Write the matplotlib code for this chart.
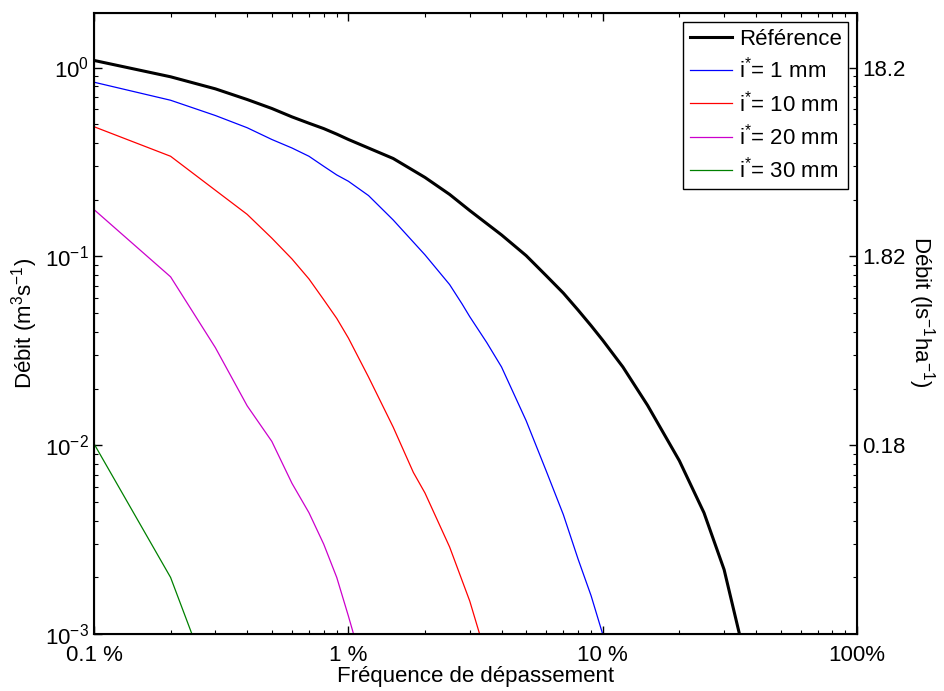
import numpy as np
import matplotlib
matplotlib.use('Agg')
import matplotlib.pyplot as plt

plt.rcParams['font.family'] = ['Liberation Sans', 'DejaVu Sans']
plt.rcParams['mathtext.fontset'] = 'custom'
plt.rcParams['mathtext.rm'] = 'Liberation Sans'
plt.rcParams['mathtext.it'] = 'Liberation Sans:italic'
plt.rcParams['mathtext.default'] = 'regular'

# Données (fréquence de dépassement, débit m3/s)
freq_ref = [0.001, 0.002, 0.003, 0.004, 0.005, 0.006, 0.007, 0.008, 0.009, 0.01,
            0.015, 0.02, 0.025, 0.03, 0.04, 0.05, 0.06, 0.07, 0.08, 0.09, 0.1,
            0.12, 0.15, 0.2, 0.25, 0.3, 0.35]
q_ref = [1.09, 0.893, 0.771, 0.677, 0.607, 0.548, 0.507, 0.475, 0.444, 0.416,
         0.33, 0.262, 0.213, 0.175, 0.13, 0.101, 0.079, 0.064, 0.052, 0.043, 0.036,
         0.026, 0.0163, 0.0083, 0.0044, 0.0022, 0.00092]

freq_1 = [0.001, 0.002, 0.003, 0.004, 0.005, 0.006, 0.007, 0.008, 0.009, 0.01,
          0.012, 0.015, 0.02, 0.025, 0.028, 0.03, 0.035, 0.04, 0.05, 0.06, 0.07,
          0.08, 0.09, 0.1, 0.11]
q_1 = [0.836, 0.671, 0.557, 0.48, 0.416, 0.375, 0.339, 0.30, 0.27, 0.25,
       0.21, 0.156, 0.102, 0.071, 0.056, 0.048, 0.035, 0.026, 0.0135, 0.0073, 0.0043,
       0.0025, 0.0016, 0.001, 0.00065]

freq_10 = [0.001, 0.002, 0.003, 0.004, 0.005, 0.006, 0.007, 0.008, 0.009, 0.01,
           0.012, 0.015, 0.018, 0.02, 0.025, 0.03, 0.035]
q_10 = [0.486, 0.339, 0.224, 0.167, 0.125, 0.097, 0.076, 0.059, 0.047, 0.037,
        0.023, 0.0125, 0.0072, 0.0056, 0.0029, 0.0015, 0.00075]

freq_20 = [0.001, 0.002, 0.003, 0.004, 0.005, 0.006, 0.007, 0.008, 0.009, 0.01, 0.011]
q_20 = [0.177, 0.078, 0.0329, 0.0162, 0.0105, 0.0063, 0.0044, 0.0030, 0.0020, 0.00125, 0.0008]

freq_30 = [0.001, 0.002, 0.003]
q_30 = [0.0102, 0.002, 0.00047]

xticks = [0.001, 0.01, 0.1, 1]
xlabels = ['0.1 %', '1 %', '10 %', '100%']
yticks_right = [1, 0.1, 0.01]
ylabels_right = ['18.2', '1.82', '0.18']

fig = plt.figure(figsize=(9.45, 6.91), dpi=100)
ax = fig.add_axes([0.0995, 0.082, 0.8075, 0.899])

ax.plot(freq_ref, q_ref, 'k', linewidth=2.2, label='Référence')
ax.plot(freq_1, q_1, color='#0000ff', linewidth=0.9, label='i$^{*}$= 1 mm')
ax.plot(freq_10, q_10, color='#ff0000', linewidth=0.9, label='i$^{*}$= 10 mm')
ax.plot(freq_20, q_20, color='#cc00cc', linewidth=0.9, label='i$^{*}$= 20 mm')
ax.plot(freq_30, q_30, color='#008000', linewidth=0.9, label='i$^{*}$= 30 mm')

ax.set_xscale('log')
ax.set_yscale('log')
ax.set_xlim(0.001, 1)
ax.set_ylim(0.001, 1.94)
ax.set_xticks(xticks)
ax.set_xticklabels(xlabels)
ax.tick_params(which='both', direction='in', top=True, right=False, labelsize=16)
ax.tick_params(which='major', length=6, width=1)
ax.tick_params(which='minor', length=3, width=0.8)
ax.tick_params(axis='x', pad=8)
ax.set_xlabel('Fréquence de dépassement', fontsize=16, labelpad=0)
ax.set_ylabel('Débit (m$^3$s$^{-1}$)', fontsize=16, labelpad=4)
for s in ax.spines.values():
    s.set_linewidth(1.5)

ax2 = ax.twinx()
ax2.set_yscale('log')
ax2.set_ylim(ax.get_ylim())
ax2.set_yticks(yticks_right)
ax2.set_yticklabels(ylabels_right)
ax2.tick_params(which='both', direction='in', labelsize=16)
ax2.tick_params(which='major', length=6, width=1)
ax2.tick_params(which='minor', length=3, width=0.8)
ax2.set_ylabel('Débit (ls$^{-1}$ha$^{-1}$)', fontsize=16, rotation=270, labelpad=8)
ax2.yaxis.set_label_coords(1.105, 0.52)

leg = ax.legend(loc='upper right', fontsize=16, fancybox=False, edgecolor='k',
                framealpha=1, borderaxespad=0.4, handlelength=1.9,
                handletextpad=0.3, labelspacing=0.33, borderpad=0.3)
leg.get_frame().set_linewidth(1)

fig.savefig('out.png', dpi=100)
